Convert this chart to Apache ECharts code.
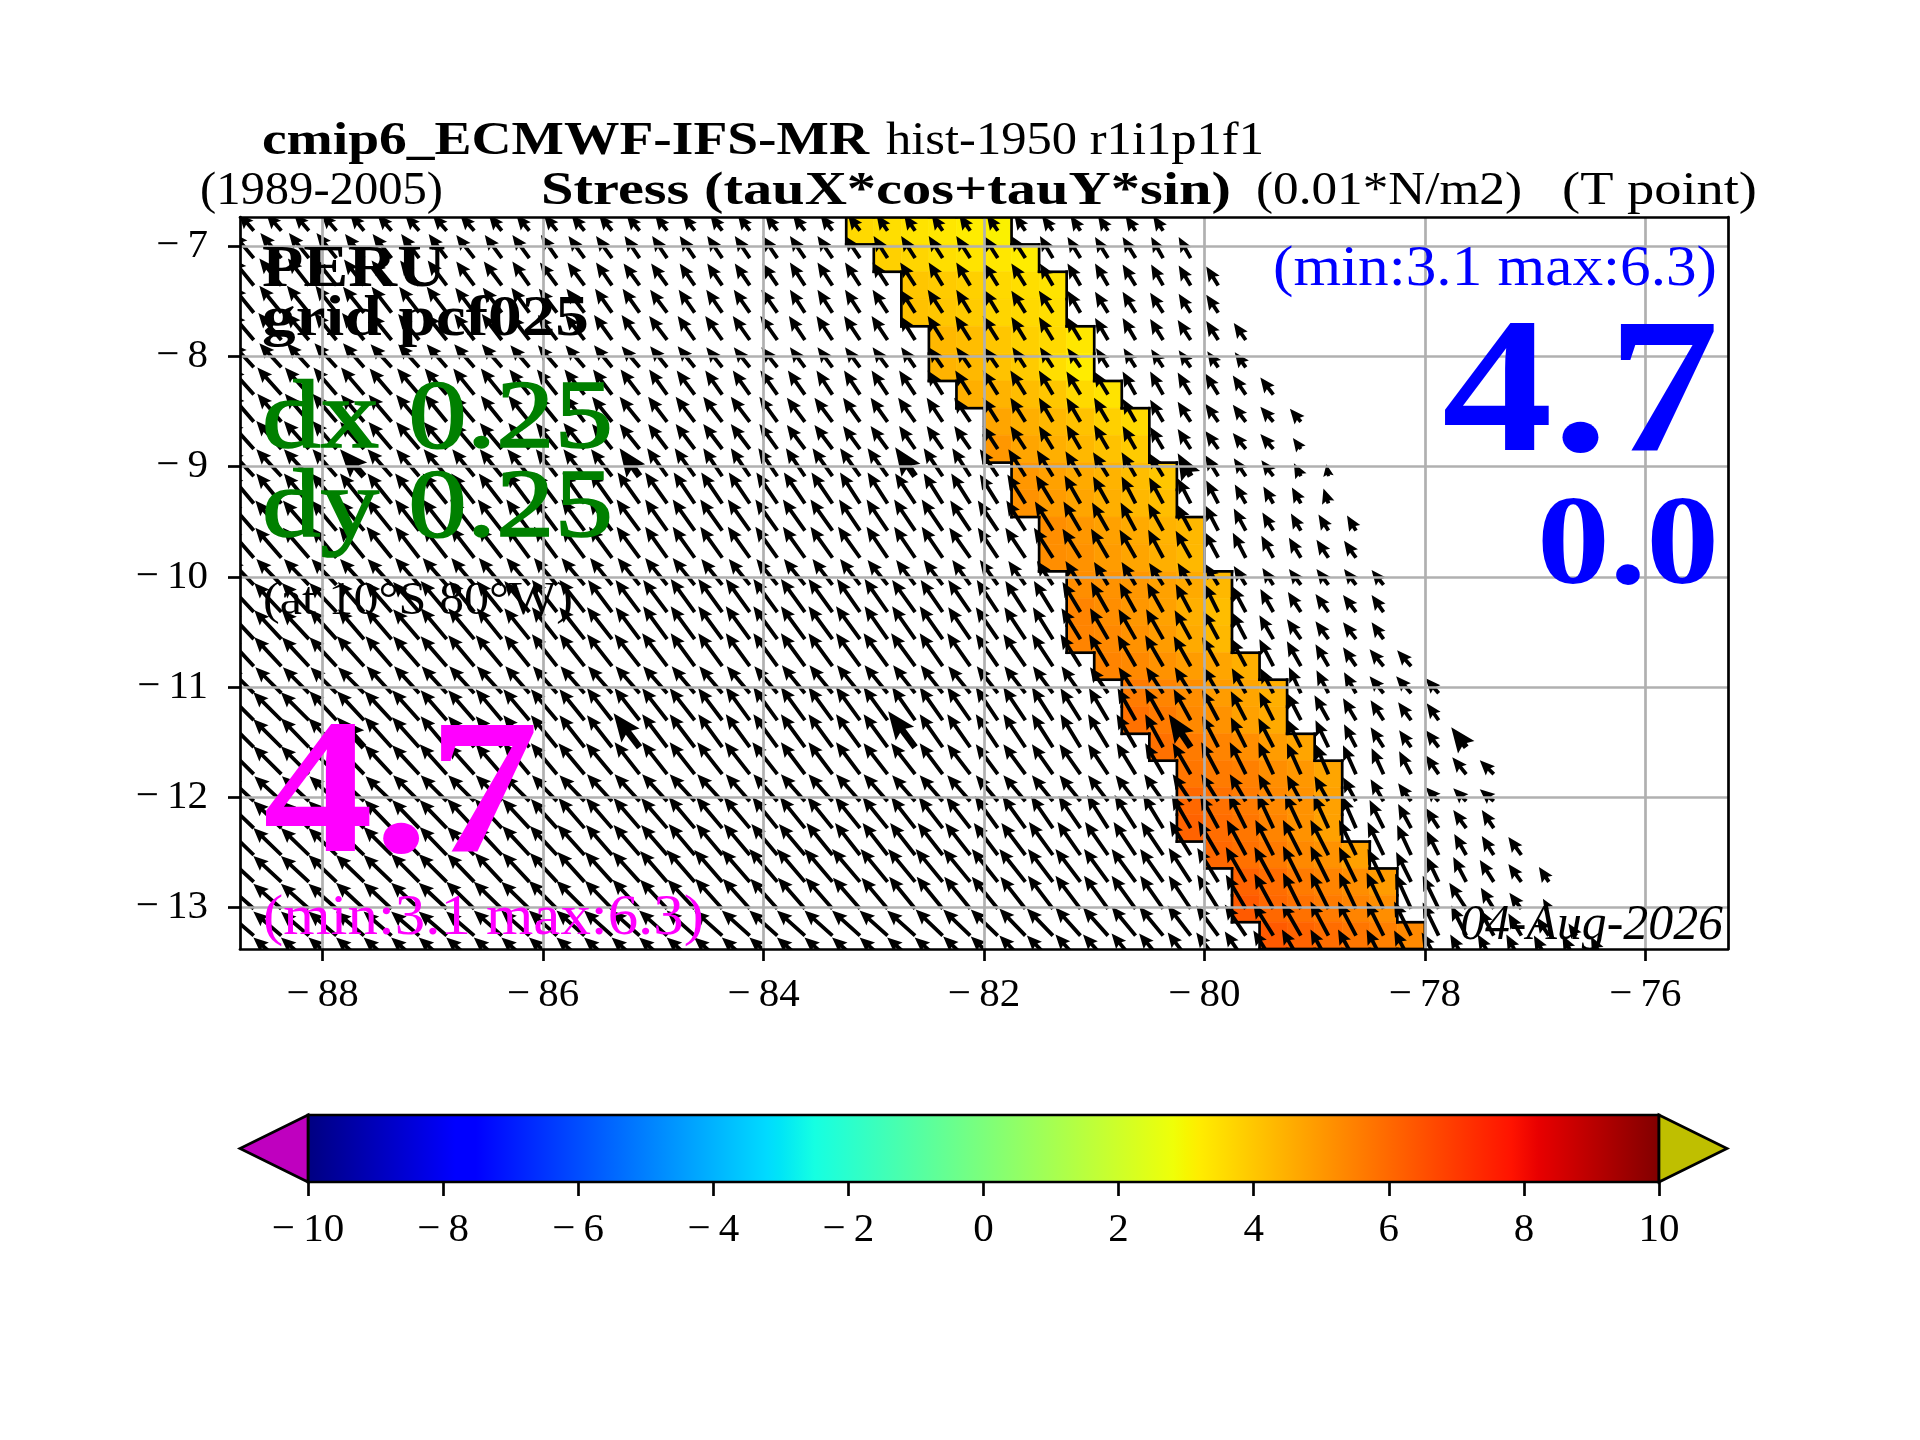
<!DOCTYPE html>
<html><head><meta charset="utf-8">
<style>html,body{margin:0;padding:0;background:#fff}#c{width:1920px;height:1440px}</style>
<script src="https://cdn.jsdelivr.net/npm/echarts@6/dist/echarts.min.js"></script>
</head><body><div id="c"></div>
<script>
// ---- tick labels / axis limits ----
const lonTicks = [-88,-86,-84,-82,-80,-78,-76];
const latTicks = [-13,-12,-11,-10,-9,-8,-7];
const lonRange = [-88.75,-75.25];
const latRange = [-13.377,-6.734];
const cbarRange = [-10,10];
const cellLon = 0.25;
// ---- Mercator row edges of the grid (degrees latitude) ----
const latEdges = [-6.734,-6.983,-7.231,-7.479,-7.726,-7.974,-8.222,-8.469,-8.716,-8.963,-9.210,-9.457,-9.703,-9.950,-10.196,-10.442,-10.688,-10.933,-11.178,-11.424,-11.668,-11.913,-12.158,-12.402,-12.646,-12.890,-13.134,-13.377,-13.620];
// ---- coloured band: first column per row, then stress values (0.01 N/m2) ----
const bandStart = [22,23,24,24,25,25,26,27,27,28,28,29,29,30,30,30,31,32,32,33,34,34,34,35,36,36,37];
const bandValues = [
[3.6,3.5,3.4,3.3,3.2,3.1],[3.8,3.7,3.5,3.4,3.3,3.2],[4.0,3.9,3.8,3.6,3.5,3.4],[4.1,4.0,3.9,3.7,3.6,3.5],
[4.3,4.2,4.0,3.8,3.6,3.3],[4.4,4.3,4.1,3.9,3.5,3.2],[4.5,4.4,4.2,4.0,3.6,3.4],[4.7,4.5,4.3,4.1,3.8,3.6],
[5.0,4.7,4.5,4.3,4.1,3.9],[5.0,4.8,4.6,4.4,4.2,4.0],[5.1,4.9,4.7,4.5,4.3,4.2],[5.2,5.0,4.8,4.6,4.4,4.3],
[5.2,5.1,4.9,4.7,4.5,4.3],[5.2,5.1,5.0,4.8,4.6,4.3],[5.4,5.2,5.0,4.8,4.5,4.2],[5.4,5.3,5.1,4.9,4.6,4.3],
[5.4,5.3,5.1,4.9,4.7,4.5],[5.6,5.4,5.2,4.9,4.7,4.5],[5.8,5.6,5.3,5.1,4.8,4.6],[5.8,5.6,5.4,5.2,4.9,4.7],
[5.7,5.6,5.5,5.2,5.0,4.7],[6.0,5.8,5.6,5.3,5.1,4.8],[6.1,5.9,5.7,5.4,5.1,4.8],[6.0,5.8,5.6,5.3,5.1,4.8],
[6.1,5.9,5.6,5.4,5.2,4.9],[6.3,6.0,5.8,5.6,5.4,5.2],[6.3,6.1,5.9,5.7,5.5,5.3]];
// ---- stress vectors per row (west to east), in quiver units read from the arrows ----
const tauXRows = [
[-15,-15,-15,-15,-14,-14,-14,-14,-14,-13,-13,-13,-13,-13,-13,-12,-12,-12,-12,-12,-12,-12,-12,-11,-11,-11,-11,-11,-11,-11,-10,-10,-10,-10],
[-21,-21,-20,-20,-19,-19,-18,-18,-18,-17,-17,-16,-16,-16,-15,-15,-15,-15,-15,-15,-15,-15,-15,-14,-14,-14,-14,-14,-14,-13,-13,-13,-13,-12,-12],
[-22,-22,-21,-21,-20,-20,-19,-19,-18,-18,-17,-17,-17,-16,-16,-16,-15,-15,-15,-15,-15,-15,-15,-15,-15,-14,-14,-14,-14,-13,-13,-13,-13,-12,-12,-12],
[-22,-22,-22,-21,-21,-20,-20,-20,-19,-19,-18,-18,-18,-17,-17,-17,-16,-16,-16,-16,-15,-15,-15,-15,-15,-15,-14,-14,-14,-14,-13,-13,-13,-13,-12,-12],
[-23,-23,-23,-22,-22,-21,-21,-21,-20,-20,-19,-19,-19,-18,-18,-18,-17,-17,-17,-17,-16,-16,-16,-16,-15,-15,-15,-15,-14,-14,-14,-13,-13,-13,-13,-12,-12],
[-22,-22,-22,-22,-21,-21,-21,-20,-20,-20,-19,-19,-19,-18,-18,-17,-17,-16,-16,-16,-15,-15,-15,-15,-14,-14,-14,-14,-13,-13,-13,-12,-12,-12,-12,-11,-11],
[-24,-24,-24,-23,-23,-22,-22,-22,-21,-21,-20,-20,-20,-19,-19,-18,-18,-17,-17,-17,-17,-16,-16,-16,-16,-15,-15,-15,-15,-14,-14,-14,-13,-13,-13,-13,-13,-13],
[-24,-24,-24,-24,-23,-23,-23,-22,-22,-21,-21,-21,-20,-20,-20,-19,-19,-19,-19,-18,-18,-18,-17,-17,-17,-16,-16,-15,-15,-14,-14,-14,-13,-13,-13,-13,-13,-13,-11],
[-25,-25,-25,-24,-24,-23,-23,-23,-22,-22,-21,-21,-21,-20,-20,-19,-19,-19,-19,-18,-18,-18,-17,-17,-16,-16,-16,-15,-15,-14,-14,-14,-13,-13,-13,-13,-13,-13,-8],
[-25,-25,-25,-24,-24,-24,-23,-23,-22,-22,-22,-21,-21,-21,-20,-20,-20,-19,-19,-19,-19,-20,-20,-20,-20,-19,-18,-18,-17,-16,-15,-15,-14,-14,-13,-13,-12,-12,-7,-2],
[-25,-25,-25,-25,-24,-24,-24,-24,-23,-23,-23,-23,-22,-22,-22,-22,-21,-21,-21,-21,-21,-21,-20,-20,-20,-19,-19,-18,-18,-17,-16,-15,-14,-14,-13,-12,-11,-10,-9,-5],
[-26,-26,-26,-25,-25,-25,-24,-24,-24,-24,-23,-23,-23,-23,-23,-22,-22,-22,-22,-22,-22,-22,-21,-21,-21,-21,-20,-20,-19,-18,-17,-16,-15,-15,-14,-13,-12,-11,-10,-10,-9],
[-26,-26,-26,-25,-25,-25,-24,-24,-24,-24,-23,-23,-23,-23,-23,-22,-22,-22,-22,-22,-22,-22,-22,-21,-21,-21,-21,-20,-20,-19,-18,-17,-16,-15,-15,-14,-13,-12,-12,-12,-12],
[-25,-25,-25,-25,-24,-24,-24,-24,-23,-23,-23,-23,-23,-22,-22,-22,-22,-21,-21,-21,-21,-20,-20,-20,-19,-19,-18,-18,-17,-16,-15,-14,-14,-14,-13,-13,-12,-11,-12,-12,-12,-12],
[-27,-27,-27,-27,-26,-26,-26,-26,-25,-25,-25,-25,-25,-24,-24,-24,-24,-24,-24,-24,-24,-24,-23,-23,-23,-22,-22,-21,-20,-19,-18,-17,-16,-16,-15,-14,-14,-13,-13,-13,-13,-12],
[-27,-27,-27,-27,-26,-26,-26,-26,-26,-25,-25,-25,-25,-25,-24,-24,-24,-24,-24,-24,-24,-24,-24,-23,-23,-23,-22,-22,-21,-20,-19,-18,-17,-17,-16,-15,-14,-14,-14,-13,-13,-12],
[-27,-27,-27,-27,-27,-26,-26,-26,-26,-26,-25,-25,-25,-25,-25,-25,-24,-24,-24,-24,-24,-24,-24,-24,-24,-23,-23,-22,-22,-21,-20,-19,-18,-18,-17,-16,-15,-14,-14,-13,-13,-14,-14],
[-26,-26,-26,-26,-26,-25,-25,-25,-25,-25,-24,-24,-24,-24,-24,-24,-23,-23,-23,-23,-23,-23,-23,-23,-22,-22,-22,-21,-21,-20,-19,-18,-17,-17,-16,-15,-14,-13,-12,-12,-12,-14,-15,-13],
[-28,-28,-28,-27,-27,-27,-27,-26,-26,-26,-26,-26,-25,-25,-25,-25,-25,-24,-24,-24,-24,-24,-24,-24,-23,-23,-23,-22,-22,-21,-20,-19,-18,-18,-17,-16,-15,-14,-14,-14,-13,-13,-13,-12],
[-28,-28,-28,-28,-27,-27,-27,-26,-26,-26,-26,-26,-25,-25,-26,-25,-25,-24,-24,-24,-24,-24,-24,-24,-27,-23,-23,-22,-22,-21,-20,-20,-19,-18,-22,-16,-15,-15,-14,-13,-12,-13,-12,-13,-15],
[-28,-28,-28,-28,-28,-27,-27,-27,-27,-26,-26,-26,-26,-26,-25,-25,-25,-25,-25,-25,-24,-24,-24,-24,-24,-23,-23,-22,-22,-21,-21,-20,-19,-18,-18,-17,-16,-15,-14,-13,-13,-12,-12,-13,-14,-14],
[-27,-27,-27,-27,-27,-26,-26,-26,-26,-26,-26,-25,-25,-25,-25,-25,-25,-25,-24,-24,-24,-24,-24,-24,-23,-23,-23,-22,-22,-21,-21,-20,-20,-19,-18,-17,-16,-15,-14,-14,-13,-13,-13,-13,-13,-14],
[-28,-28,-28,-28,-28,-27,-27,-27,-27,-27,-27,-26,-26,-26,-26,-26,-26,-26,-26,-25,-25,-25,-25,-25,-24,-24,-24,-23,-23,-22,-22,-21,-21,-20,-19,-18,-17,-16,-16,-15,-14,-14,-13,-13,-13,-12],
[-28,-28,-28,-28,-28,-28,-27,-27,-27,-27,-27,-27,-27,-26,-26,-26,-26,-26,-26,-26,-26,-26,-25,-25,-25,-25,-25,-24,-24,-24,-23,-23,-22,-22,-21,-20,-19,-18,-18,-18,-17,-16,-14,-12,-12,-12,-13],
[-28,-28,-28,-28,-28,-28,-28,-28,-27,-27,-27,-27,-27,-27,-27,-27,-28,-28,-28,-28,-28,-28,-28,-27,-27,-27,-27,-26,-26,-25,-25,-24,-24,-23,-22,-21,-20,-19,-18,-18,-17,-16,-15,-12,-13,-14,-13,-10],
[-28,-28,-28,-28,-28,-28,-28,-28,-28,-28,-28,-28,-28,-27,-27,-27,-27,-27,-27,-27,-27,-27,-27,-26,-26,-26,-26,-26,-25,-25,-25,-24,-24,-23,-22,-21,-20,-19,-18,-18,-17,-17,-16,-16,-17,-13,-12,-6],
[-28,-28,-28,-28,-28,-28,-28,-28,-28,-28,-28,-28,-28,-28,-28,-28,-28,-28,-28,-28,-28,-28,-28,-28,-28,-27,-27,-27,-26,-26,-25,-25,-24,-24,-23,-22,-21,-20,-19,-18,-18,-17,-17,-16,-15,-14,-13,-12,-8],
[-28,-28,-28,-28,-28,-28,-28,-28,-28,-28,-28,-28,-28,-28,-28,-28,-28,-28,-28,-28,-28,-28,-28,-28,-28,-28,-27,-27,-26,-26,-25,-25,-24,-24,-23,-22,-21,-20,-19,-18,-18,-17,-17,-17,-16,-16,-15,-15,-14,-13]];
const tauYRows = [
[17,17,17,17,17,16,16,16,16,16,16,16,16,16,16,16,16,16,16,16,16,16,16,16,16,16,16,16,16,15,15,15,15,15],
[25,25,25,25,24,24,24,24,23,23,23,23,22,22,22,22,22,22,22,22,22,22,22,22,22,22,22,22,22,22,21,21,21,21,21],
[27,27,27,26,26,25,25,25,24,24,24,23,23,23,22,22,22,22,22,22,23,23,23,23,23,23,23,22,22,22,22,22,21,21,20,19],
[27,27,27,27,26,26,26,26,25,25,25,24,24,24,24,23,23,23,23,23,23,23,23,23,23,23,23,23,22,22,22,21,21,20,19,18],
[27,27,27,27,27,26,26,26,26,26,25,25,25,25,25,24,24,24,24,24,24,24,24,24,24,24,24,24,23,23,23,22,22,21,20,19,17],
[24,24,24,24,24,23,23,23,23,23,22,22,22,22,21,21,21,20,20,20,20,20,20,20,20,20,20,20,20,20,19,19,19,18,17,16,15],
[27,27,27,27,27,26,26,26,26,26,25,25,25,25,25,25,24,24,24,24,24,24,24,24,24,24,24,24,24,24,23,23,23,23,22,21,19,17],
[28,28,28,28,27,27,27,27,26,26,26,26,26,25,25,25,25,25,25,25,24,24,24,24,24,24,24,24,24,24,24,24,23,22,20,18,17,15,13],
[28,28,28,28,27,27,27,27,26,26,26,26,26,25,25,25,25,25,25,25,24,24,23,23,23,23,23,23,23,23,24,24,23,22,20,18,16,15,11],
[27,27,27,27,27,27,27,27,27,27,27,27,27,27,28,28,28,28,28,28,28,28,28,28,29,28,28,27,27,26,25,24,24,23,23,21,18,16,13,12],
[30,30,30,30,30,30,30,30,30,30,31,31,31,31,31,31,31,31,31,31,31,31,31,31,30,30,30,29,29,28,28,27,27,26,25,23,19,17,16,15],
[30,30,30,30,30,31,31,31,31,31,31,31,31,31,31,31,31,31,31,31,31,31,31,31,31,31,30,30,30,29,29,28,28,27,26,25,22,18,17,16,15],
[30,30,30,30,31,31,31,31,31,31,31,31,31,31,31,31,31,31,31,31,31,31,31,31,31,31,30,30,30,30,29,29,28,28,27,26,25,22,20,18,17],
[26,26,26,26,26,26,27,27,27,27,27,27,27,27,27,27,27,26,26,26,26,26,26,25,25,25,25,25,24,24,24,23,23,22,22,21,19,17,16,16,16,15],
[29,29,29,29,30,30,30,31,31,31,31,32,32,32,32,32,33,33,33,33,33,33,33,33,32,32,32,32,31,31,30,30,29,29,28,28,26,23,20,18,17,17],
[29,29,29,30,30,30,30,31,31,31,31,32,32,32,32,33,33,33,33,33,33,33,33,33,33,33,32,32,32,32,31,31,30,30,29,28,27,24,20,18,17,17],
[29,29,29,29,30,30,30,30,31,31,31,32,32,32,32,33,33,33,33,33,33,33,33,33,33,33,33,32,32,32,32,32,31,31,30,29,28,27,25,22,19,17,16],
[26,26,26,26,26,27,27,27,27,27,27,27,27,27,27,27,27,27,27,27,28,28,28,28,28,28,27,27,27,27,27,26,26,26,26,26,25,25,26,23,21,17,17,15],
[28,28,28,29,29,29,30,30,30,31,31,31,31,32,32,32,32,32,33,33,33,33,33,33,33,33,33,33,33,33,32,32,32,32,31,30,29,28,27,25,22,20,18,17],
[28,28,29,29,30,30,30,31,31,31,32,32,32,32,34,33,33,33,33,33,33,33,33,33,36,33,33,33,33,33,33,33,33,33,33,31,30,29,28,27,23,20,17,17,20],
[28,28,28,28,29,29,29,30,30,30,31,31,31,31,32,32,32,32,32,32,32,32,32,31,31,31,30,30,30,30,30,30,31,31,31,32,32,32,31,30,29,26,23,19,17,14],
[25,25,25,25,25,25,26,26,26,26,26,26,26,27,27,27,27,27,27,27,27,27,27,27,26,26,26,26,26,26,26,26,26,27,27,27,27,27,26,25,24,22,18,14,13,12],
[27,27,27,27,28,28,28,28,29,29,29,29,30,30,30,30,31,31,31,31,31,31,31,31,31,31,31,32,32,32,32,33,33,33,33,33,34,34,34,33,32,28,24,20,18,18],
[27,27,27,27,27,28,28,28,28,29,29,29,30,30,30,30,31,31,31,31,31,32,32,32,32,32,32,32,32,33,33,33,33,33,34,34,35,35,35,35,35,33,30,24,21,19,18],
[26,26,26,27,27,27,28,28,28,29,29,29,30,30,30,31,32,32,32,33,33,33,33,33,33,33,33,33,33,33,33,33,33,33,34,34,35,35,36,36,35,33,30,25,25,22,18,15],
[25,25,25,25,26,26,26,26,27,27,27,28,28,28,29,29,29,30,30,30,31,31,31,31,32,32,32,32,32,33,33,33,33,33,33,34,34,35,36,36,36,36,35,33,26,21,16,10],
[24,24,24,24,24,24,24,24,24,25,25,25,25,25,25,25,25,25,25,25,25,25,25,25,25,26,26,26,27,27,28,28,29,29,30,30,31,32,33,34,34,34,34,33,30,26,22,18,12],
[25,25,25,25,25,25,25,25,25,25,25,25,25,25,25,25,25,25,25,25,25,25,25,25,25,25,26,26,27,27,28,28,29,29,30,30,31,32,33,33,33,33,32,30,28,28,28,27,27,26]];
const heavyRows = [9,19];
const heavyCols = [4,14,24,34,44];
// ---- jet colormap knots ----
const jetR = [[0,0],[0.35,0],[0.66,1],[0.89,1],[1,0.5]];
const jetG = [[0,0],[0.125,0],[0.375,1],[0.64,1],[0.91,0],[1,0]];
const jetB = [[0,0.5],[0.11,1],[0.34,1],[0.65,0],[1,0]];
const jetKnots = [0,0.11,0.125,0.34,0.35,0.375,0.64,0.65,0.66,0.89,0.91,1];
const underColor = '#bf00bf', overColor = '#bfbf00';

const F = '"Liberation Serif"';
function chan(k,t){for(let i=1;i<k.length;i++){if(t<=k[i][0]){const a=k[i-1],b=k[i];return a[1]+(b[1]-a[1])*(t-a[0])/(b[0]-a[0]);}}return k[k.length-1][1];}
function jetAt(t){return 'rgb('+[jetR,jetG,jetB].map(k=>Math.round(255*chan(k,t))).join(',')+')';}
function jetVal(v){return jetAt((v-cbarRange[0])/(cbarRange[1]-cbarRange[0]));}
const lonEdge = c => lonRange[0]+cellLon*c;
const minusFmt = v => v<0 ? '\u2212\u2009'+(-v) : String(v);

// band cells and outline
const cellData=[], outlineData=[];
const inBand=(r,c)=>r>=0&&r<bandStart.length&&c>=bandStart[r]&&c<bandStart[r]+bandValues[r].length;
bandValues.forEach((row,r)=>row.forEach((val,i)=>{
  const c=bandStart[r]+i, w=lonEdge(c), e=lonEdge(c+1), n=latEdges[r], s=latEdges[r+1];
  cellData.push([w,n,e,s,val]);
  if(!inBand(r,c-1)) outlineData.push([w,n,w,s]);
  if(!inBand(r,c+1)) outlineData.push([e,n,e,s]);
  if(!inBand(r-1,c)) outlineData.push([w,n,e,n]);
  if(!inBand(r+1,c)) outlineData.push([w,s,e,s]);
}));
// arrows
const arrowData=[];
tauXRows.forEach((row,r)=>row.forEach((u,c)=>{
  const heavy=heavyRows.includes(r)&&heavyCols.includes(c)?1:0;
  arrowData.push([lonEdge(c)+cellLon/2,(latEdges[r]+latEdges[r+1])/2,u,tauYRows[r][c],heavy]);
}));

function arrowItem(params,api){
  const p=api.coord([api.value(0),api.value(1)]);
  const u=api.value(2), v=api.value(3), heavy=api.value(4);
  const L=Math.hypot(u,v);
  let w=heavy?6.6:3.8, hw=heavy?23:13, hl=heavy?28:15, ha=heavy?24.5:13.2;
  const k=Math.min(1,L/hl); w*=k; hw*=k; hl*=k; ha*=k;
  const ux=u/L, uy=-v/L, nx=-uy, ny=ux;
  const at=(a,b)=>[p[0]+ux*a+nx*b,p[1]+uy*a+ny*b];
  return {type:'polygon',shape:{points:[at(0,w/2),at(L-ha,w/2),at(L-hl,hw/2),at(L,0),at(L-hl,-hw/2),at(L-ha,-w/2),at(0,-w/2)]},style:{fill:'#000'}};
}
function label(s,x0,x1,base,size,fill,weight,fstyle,thicken){
  const font=(fstyle||'normal')+' '+(weight||'normal')+' '+size+'px '+F;
  const ctx=document.createElement('canvas').getContext('2d'); ctx.font=font;
  const w=ctx.measureText(s).width;
  const style={text:s,font:font,fill:fill||'#000',align:'left',verticalAlign:'middle'};
  if(thicken){style.stroke=fill;style.lineWidth=thicken;}
  return {type:'text',x:x0,y:base-0.27*size+1.5,scaleX:(x1-x0)/w,z:100,silent:true,style:style};
}
const axisFont={fontFamily:F,fontSize:41,color:'#000'};
const option={
  animation:false,backgroundColor:'#fff',
  grid:[{left:240,top:217,width:1488,height:732},{left:308,top:1115,width:1351,height:67}],
  xAxis:[
   {type:'value',gridIndex:0,min:lonRange[0],max:lonRange[1],position:'bottom',z:5,
    axisLine:{onZero:false,lineStyle:{color:'#000',width:2.7}},
    axisTick:{show:true,length:12,customValues:lonTicks,lineStyle:{color:'#000',width:2.7}},
    axisLabel:{customValues:lonTicks,formatter:minusFmt,margin:26,...axisFont},
    splitLine:{show:true,lineStyle:{color:'#b0b0b0',width:2.7}}},
   {type:'value',gridIndex:0,min:lonRange[0],max:lonRange[1],position:'top',z:6,
    axisLine:{onZero:false,lineStyle:{color:'#000',width:2.7}},axisTick:{show:false},axisLabel:{show:false},splitLine:{show:false}},
   {type:'value',gridIndex:1,min:cbarRange[0],max:cbarRange[1],interval:2,position:'bottom',z:5,
    axisLine:{show:false},axisTick:{show:true,length:14,lineStyle:{color:'#000',width:2.7}},
    axisLabel:{formatter:minusFmt,margin:28,showMinLabel:true,showMaxLabel:true,...axisFont},splitLine:{show:false}}
  ],
  yAxis:[
   {type:'value',gridIndex:0,min:latRange[0],max:latRange[1],position:'left',z:5,
    axisLine:{onZero:false,lineStyle:{color:'#000',width:2.7}},
    axisTick:{show:true,length:12,customValues:latTicks,lineStyle:{color:'#000',width:2.7}},
    axisLabel:{customValues:latTicks,formatter:minusFmt,margin:32,...axisFont},
    splitLine:{show:true,lineStyle:{color:'#b0b0b0',width:2.7}}},
   {type:'value',gridIndex:0,min:latRange[0],max:latRange[1],position:'right',z:6,
    axisLine:{onZero:false,lineStyle:{color:'#000',width:2.7}},axisTick:{show:false},axisLabel:{show:false},splitLine:{show:false}},
   {type:'value',gridIndex:1,min:0,max:1,show:false}
  ],
  series:[
   {type:'custom',name:'stress',xAxisIndex:0,yAxisIndex:0,z:1,clip:true,data:cellData,
    renderItem:(p,api)=>{const a=api.coord([api.value(0),api.value(1)]),b=api.coord([api.value(2),api.value(3)]);const col=jetVal(api.value(4));
      return {type:'rect',shape:{x:a[0],y:a[1],width:b[0]-a[0],height:b[1]-a[1]},style:{fill:col,stroke:col,lineWidth:0.6}};}},
   {type:'custom',name:'outline',xAxisIndex:0,yAxisIndex:0,z:2,clip:true,data:outlineData,
    renderItem:(p,api)=>{const a=api.coord([api.value(0),api.value(1)]),b=api.coord([api.value(2),api.value(3)]);
      return {type:'line',shape:{x1:a[0],y1:a[1],x2:b[0],y2:b[1]},style:{stroke:'#000',lineWidth:2.7,lineCap:'square'}};}},
   {type:'custom',name:'quiver',xAxisIndex:0,yAxisIndex:0,z:3,clip:true,data:arrowData,renderItem:arrowItem},
   {type:'custom',name:'colorbar',xAxisIndex:2,yAxisIndex:2,z:3,data:[[cbarRange[0],cbarRange[1]]],
    renderItem:(p,api)=>{const a=api.coord([api.value(0),1]),b=api.coord([api.value(1),0]);
      return {type:'rect',shape:{x:a[0],y:a[1],width:b[0]-a[0],height:b[1]-a[1]},
        style:{fill:new echarts.graphic.LinearGradient(0,0,1,0,jetKnots.map(t=>({offset:t,color:jetAt(t)}))),stroke:'#000',lineWidth:2.7}};}},
   {type:'custom',name:'extensions',xAxisIndex:2,yAxisIndex:2,z:3,data:[[cbarRange[0],-1],[cbarRange[1],1]],
    renderItem:(p,api)=>{const d=api.value(1),t=api.coord([api.value(0),1]),b=api.coord([api.value(0),0]);
      return {type:'polygon',shape:{points:[t,[t[0]+d*68,(t[1]+b[1])/2],b]},style:{fill:d<0?underColor:overColor,stroke:'#000',lineWidth:2.7,lineJoin:'miter'}};}}
  ],
  graphic:[
   label('cmip6_ECMWF-IFS-MR',262,869,153,47,'#000','bold'),
   label('hist-1950 r1i1p1f1',886,1264,153,47),
   label('(1989-2005)',200,443,203,47),
   label('Stress (tauX*cos+tauY*sin)',541,1231,203,47,'#000','bold'),
   label('(0.01*N/m2)',1256,1522,203,47),
   label('(T point)',1562,1757,203,47),
   label('PERU',262,446,285,59,'#000','bold'),
   label('grid pcf025',262,589,334,58,'#000','bold'),
   label('dx 0.25',262,613,446,98,'#008000','normal','normal',1.6),
   label('dy 0.25',262,613,535,98,'#008000','normal','normal',1.6),
   label('(at 10\u00b0S 80\u00b0W)',263,573,613,47),
   label('4.7',263,539,852,192,'#ff00ff','bold'),
   label('(min:3.1 max:6.3)',263,704,933,58,'#ff00ff'),
   label('(min:3.1 max:6.3)',1273,1717,284,58,'#0000ff'),
   label('4.7',1442,1719,451,192,'#0000ff','bold'),
   label('0.0',1537,1719,583,128,'#0000ff','bold'),
   label('04-Aug-2026',1460,1723,938,50,'#000','normal','italic')
  ]
};
echarts.init(document.getElementById('c'),null,{renderer:'canvas'}).setOption(option);
</script></body></html>
